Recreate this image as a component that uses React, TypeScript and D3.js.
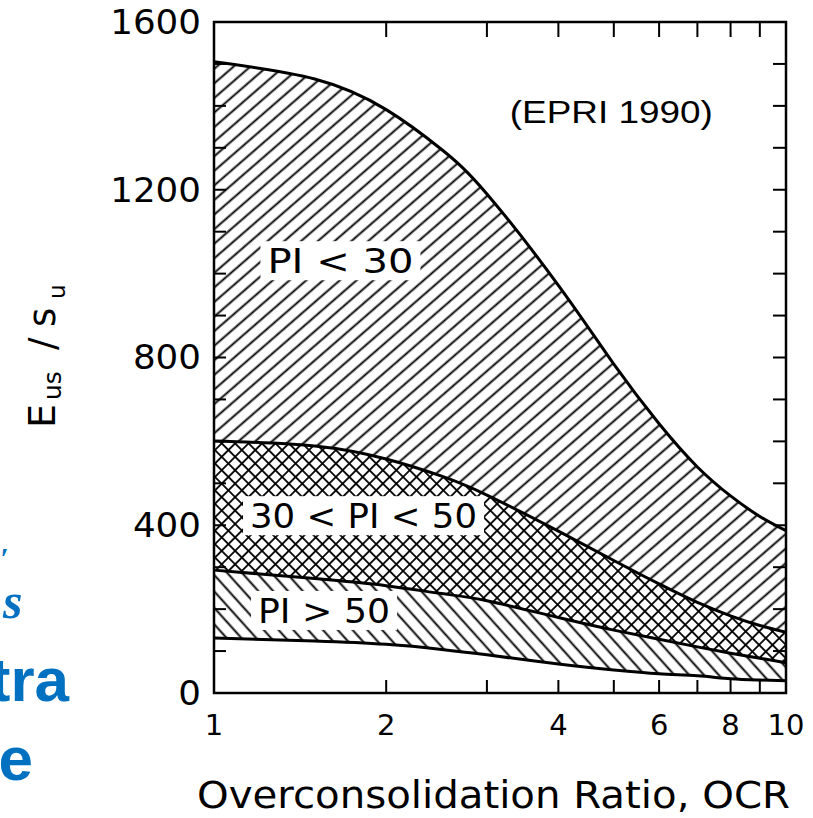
import React from 'react';
import * as d3 from 'd3';

const ocr = [1, 1.5, 2, 2.5, 3, 4, 5, 6, 7, 8, 9, 10];

// Eu/su boundaries
const piBelow30Upper = [1505, 1464, 1391, 1296, 1190, 972, 784, 642, 539, 470, 421, 387];
const pi30to50Upper = [601, 589, 558, 517, 472, 386, 316, 260, 216, 184, 161, 145];
const pi30to50Lower = [293, 273, 256, 237, 220, 180, 150, 128, 110, 95, 83, 72];
const piAbove50Lower = [131, 124, 116, 104, 91, 69, 55, 46, 41, 34, 31, 29];

const yTickLabels = [0, 400, 800, 1200, 1600];
const xTickLabels = [1, 2, 4, 6, 8, 10];

// region labels, anchored in data units (start of text, baseline)
const regionLabels = [
  { text: 'PI < 30', ocr: 1.24, value: 1001, width: 146 },
  { text: '30 < PI < 50', ocr: 1.156, value: 393, width: 227 },
  { text: 'PI > 50', ocr: 1.194, value: 167, width: 132 },
];

const W = 813;
const H = 818;
const FIG_FONT = '"DejaVu Sans", sans-serif';
const BLUE = '#0070c0';

const App: React.FC = () => {
  const x = d3.scaleLog().domain([1, 10]).range([214, 786]);
  const y = d3.scaleLinear().domain([0, 1600]).range([693, 22]);
  const curve = d3.curveNatural;

  const band = (upper: number[], lower: number[]) =>
    d3.area<number>()
      .x((_, i) => x(ocr[i]))
      .y0((_, i) => y(lower[i]))
      .y1((_, i) => y(upper[i]))
      .curve(curve)(ocr) || '';

  const line = (vals: number[]) =>
    d3.line<number>()
      .x((_, i) => x(ocr[i]))
      .y(d => y(d))
      .curve(curve)(vals) || '';

  const minorX = x.ticks().filter(t => t > 1 && t < 10);
  const minorY = y.ticks(16).filter(t => t > 0 && t < 1600);

  const [x0, x1] = x.range();
  const [yb, yt] = y.range();

  return (
    <svg width={W} height={H} style={{ position: 'absolute', left: 0, top: 0, background: '#fff' }}>
      <defs>
        <pattern id="hatchFwd" patternUnits="userSpaceOnUse" width={11} height={11}
          patternTransform="rotate(49)">
          <line x1={5.5} y1={0} x2={5.5} y2={11} stroke="#000" strokeWidth={1.9} />
        </pattern>
        <pattern id="hatchBack" patternUnits="userSpaceOnUse" width={11} height={11}
          patternTransform="rotate(-42)">
          <line x1={5.5} y1={0} x2={5.5} y2={11} stroke="#000" strokeWidth={1.9} />
        </pattern>
        <pattern id="crossHatch" patternUnits="userSpaceOnUse" width={9.5} height={9.5}
          patternTransform="rotate(45)">
          <line x1={4.75} y1={0} x2={4.75} y2={9.5} stroke="#000" strokeWidth={1.8} />
          <line x1={0} y1={4.75} x2={9.5} y2={4.75} stroke="#000" strokeWidth={1.8} />
        </pattern>
      </defs>

      {/* hatched bands */}
      <path d={band(piBelow30Upper, pi30to50Upper)} fill="url(#hatchFwd)" />
      <path d={band(pi30to50Upper, pi30to50Lower)} fill="url(#crossHatch)" />
      <path d={band(pi30to50Lower, piAbove50Lower)} fill="url(#hatchBack)" />

      {/* white knock-outs behind region labels */}
      {regionLabels.map(l => (
        <rect key={'bg' + l.text}
          x={x(l.ocr) - 7} y={y(l.value) - 32}
          width={l.width + 14} height={39}
          fill="#fff" />
      ))}

      {/* boundary curves */}
      {[piBelow30Upper, pi30to50Upper, pi30to50Lower, piAbove50Lower].map((s, i) => (
        <path key={i} d={line(s)} fill="none" stroke="#000" strokeWidth={3} />
      ))}

      {regionLabels.map(l => (
        <text key={l.text} x={x(l.ocr)} y={y(l.value)}
          fontFamily={FIG_FONT} fontSize={34} fill="#000"
          textLength={l.width} lengthAdjust="spacingAndGlyphs">
          {l.text}
        </text>
      ))}

      {/* frame */}
      <rect x={x0} y={yt} width={x1 - x0} height={yb - yt}
        fill="none" stroke="#000" strokeWidth={2.5} />

      {/* minor ticks, all pointing inward */}
      {minorX.map(t => (
        <g key={'tx' + t} stroke="#000" strokeWidth={2}>
          <line x1={x(t)} x2={x(t)} y1={yt} y2={yt + 15} />
          <line x1={x(t)} x2={x(t)} y1={yb} y2={yb - 13} />
        </g>
      ))}
      {minorY.map(t => (
        <g key={'ty' + t} stroke="#000" strokeWidth={2}>
          <line x1={x0} x2={x0 + 12} y1={y(t)} y2={y(t)} />
          <line x1={x1} x2={x1 - 13} y1={y(t)} y2={y(t)} />
        </g>
      ))}

      {/* tick labels */}
      {yTickLabels.map(t => (
        <text key={'ly' + t} x={201} y={y(t)} dy="0.36em" textAnchor="end"
          fontFamily={FIG_FONT} fontSize={33} fill="#000"
          textLength={String(t).length * 22.7} lengthAdjust="spacingAndGlyphs">
          {t}
        </text>
      ))}
      {xTickLabels.map(t => (
        <text key={'lx' + t} x={x(t)} y={735} textAnchor="middle"
          fontFamily={FIG_FONT} fontSize={29} fill="#000">
          {t}
        </text>
      ))}

      {/* axis titles */}
      <text x={197} y={808} fontFamily={FIG_FONT} fontSize={37} fill="#000"
        textLength={593} lengthAdjust="spacingAndGlyphs">
        Overconsolidation Ratio, OCR
      </text>
      <text transform="translate(55,428) rotate(-90)" fontFamily={FIG_FONT} fill="#000">
        <tspan x={0} y={0} fontSize={38}>E</tspan>
        <tspan x={28} y={6} fontSize={25}>us</tspan>
        <tspan x={78} y={0} fontSize={37}>/</tspan>
        <tspan x={101} y={0} fontSize={37}>s</tspan>
        <tspan x={129} y={10} fontSize={23}>u</tspan>
      </text>

      {/* source note */}
      <text x={x(3.29)} y={y(1359)} fontFamily='"Liberation Sans", Arial, sans-serif'
        fontSize={32} fill="#000" textLength={203} lengthAdjust="spacingAndGlyphs">
        (EPRI 1990)
      </text>

      {/* fragments of slide text cut at the left edge */}
      <text x={0} y={568} fontFamily='"Liberation Serif", serif' fontStyle="italic"
        fontWeight="bold" fontSize={30} fill={BLUE}>′</text>
      <text x={3} y={618} fontFamily='"Liberation Serif", serif' fontStyle="italic"
        fontWeight="bold" fontSize={50} fill={BLUE}>s</text>
      <text x={69} y={701} textAnchor="end" fontFamily='"Liberation Sans", Arial, sans-serif'
        fontWeight="bold" fontSize={62} fill={BLUE}>tra</text>
      <text x={33} y={780} textAnchor="end" fontFamily='"Liberation Sans", Arial, sans-serif'
        fontWeight="bold" fontSize={62} fill={BLUE}>e</text>
    </svg>
  );
};

export default App;
